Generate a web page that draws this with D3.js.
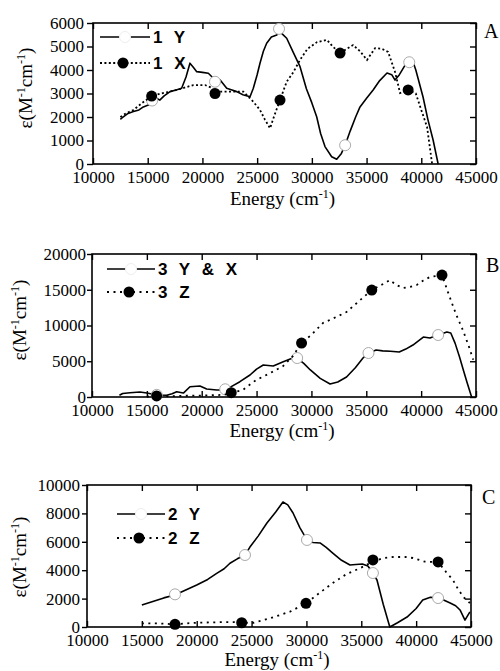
<!DOCTYPE html>
<html>
<head>
<meta charset="utf-8">
<script src="https://cdn.jsdelivr.net/npm/d3@7"></script>
<style>
  body { margin: 0; background: #fff; }
  svg { display: block; }
</style>
</head>
<body>
<svg id="chart" width="500" height="671"></svg>
<script>
// ---- shared axis values ----
const energyTicks = [10000, 15000, 20000, 25000, 30000, 35000, 40000, 45000];
const ticksA = [0, 1000, 2000, 3000, 4000, 5000, 6000];
const ticksB = [0, 5000, 10000, 15000, 20000];
const ticksC = [0, 2000, 4000, 6000, 8000, 10000];

// ---- panel A: complex 1 ----
const a1Y = [[12500,1900],[12650,1960],[13200,2150],[13700,2230],[14200,2300],[14600,2430],[15050,2510],[15500,2650],[15820,2800],[16100,2720],[16500,2900],[17040,3080],[17600,3150],[18100,3220],[18500,3700],[18860,4290],[19200,4100],[19480,3930],[20000,3900],[20540,3860],[21000,3650],[21200,3520],[21600,3580],[22220,3220],[22700,3150],[23130,3080],[23700,2950],[24350,2860],[24650,3220],[25000,3800],[25260,4290],[25570,4800],[25870,5140],[26300,5400],[26790,5490],[27000,5650],[27240,5560],[27700,5350],[28300,4750],[28920,4140],[29500,3200],[30000,2600],[30440,2010],[30800,1300],[31200,740],[31810,310],[32270,200],[32700,450],[33040,800],[33500,1400],[34000,2000],[34400,2430],[35000,2800],[35600,3150],[36200,3550],[36870,3870],[37300,3800],[37600,3570],[38000,3800],[38520,4210],[38900,4330],[39250,4340],[39500,4000],[40160,2850],[40600,1900],[41080,1020],[41540,0]];
const a1X = [[12500,2000],[13000,2150],[13700,2300],[14500,2600],[15360,2890],[16200,3000],[17040,3080],[18000,3200],[19170,3360],[20240,3360],[20800,3250],[21150,3080],[21800,3080],[22520,3080],[23740,3080],[24650,2650],[25260,2300],[25700,1900],[26180,1520],[26600,2100],[27090,2720],[27700,3500],[28300,3900],[28920,4430],[29600,4900],[30480,5190],[31390,5280],[31900,5000],[32580,4720],[33200,4900],[33770,5060],[34400,4800],[35040,4430],[35780,4930],[36400,4900],[36970,4770],[37600,3920],[38060,3020],[38800,3150],[39500,3000],[40000,2300],[40530,1570],[40990,0]];
const a1YMarks = [[15400,2700],[21150,3500],[27000,5750],[33040,800],[38900,4330]];
const a1XMarks = [[15360,2890],[21150,3000],[27090,2720],[32580,4720],[38800,3150]];

// ---- panel B: complex 3 ----
const b3YX = [[12500,250],[12800,500],[13460,600],[14370,700],[15000,550],[15890,280],[16800,250],[17300,450],[17720,740],[18330,550],[18930,1440],[19840,1540],[20450,1120],[21360,980],[21970,980],[22570,1350],[23480,2140],[24400,3080],[25000,3900],[25610,4480],[26520,4340],[27430,4940],[28300,5450],[28700,5450],[29300,4700],[29900,3780],[30800,2600],[31700,1820],[32400,2100],[33200,2800],[34000,4100],[34700,5450],[35200,6150],[35900,6570],[36500,6450],[37200,6400],[38000,6290],[38600,6700],[39250,7270],[40200,8390],[40800,8250],[41550,8670],[42350,9090],[42700,8950],[43100,7500],[43500,5600],[43900,3500],[44200,1960],[44600,0]];
const b3Z = [[15000,50],[15890,150],[17000,100],[18000,150],[19000,200],[20000,200],[21000,250],[22000,300],[22690,600],[23740,980],[24960,2380],[26180,3300],[27400,4300],[28300,5700],[29100,7550],[30000,8700],[31050,10350],[32000,11000],[33200,11890],[34400,13500],[35500,14960],[36400,15700],[37150,16360],[37700,15700],[38350,15240],[39000,15400],[39600,15660],[40200,16300],[40800,16780],[41900,17060],[42600,13990],[43200,11500],[43800,9370],[44300,7300],[44750,5200]];
const b3YXMarks = [[15900,300],[22140,1080],[28700,5450],[35200,6150],[41550,8670]];
const b3ZMarks = [[15890,150],[22690,600],[29100,7550],[35500,14960],[41900,17060]];

// ---- panel C: complex 2 ----
const c2Y = [[15000,1550],[16000,1800],[17000,2050],[18000,2250],[19000,2600],[20000,2960],[21000,3350],[21820,3780],[22500,4100],[23030,4490],[23700,4800],[24400,5070],[24850,5630],[25600,6400],[26400,7320],[27200,8100],[27860,8800],[28300,8600],[28780,8030],[29400,7000],[30050,6130],[30600,5950],[31240,5920],[31800,5600],[32400,5210],[33200,4700],[33970,4370],[34500,4400],[35100,4440],[35600,4300],[36060,3800],[36430,3310],[37000,1600],[37600,0],[38300,300],[39170,700],[40000,1300],[40600,1900],[41300,2100],[42000,2040],[42500,1900],[43100,1690],[43600,1500],[44000,1200],[44450,490],[44900,1060]];
const c2Z = [[15000,260],[16000,260],[17000,230],[18020,190],[19000,250],[20000,300],[21500,330],[23330,350],[24100,300],[25200,300],[26680,610],[28500,1080],[29960,1670],[31200,2400],[32400,3100],[33600,3700],[34900,4150],[36060,4600],[37000,4850],[37900,4930],[39000,4930],[39700,4860],[40800,4600],[42000,4580],[42700,3900],[43350,3310],[43800,2700],[44300,2110],[44900,1690]];
const c2YMarks = [[18020,2300],[24400,5070],[30050,6130],[36060,3800],[42000,2040]];
const c2ZMarks = [[18020,190],[24100,300],[29960,1670],[36060,4720],[42000,4580]];

// ---- legend labels ----
const legendA = ["1 Y", "1 X"];
const legendB = ["3 Y & X", "3 Z"];
const legendC = ["2 Y", "2 Z"];

const SERIF = "'Liberation Serif', 'Times New Roman', serif";
const SANS = "'Liberation Sans', Arial, sans-serif";

const svg = d3.select("#chart");

const panels = [
  { left: 93, right: 476, top: 23, bottom: 164, yMax: 6000, yTicks: ticksA,
    tickOut: 6, pad: 3, xLabY: 205, yLab: [25, 88], letter: "A", letterPos: [484, 38],
    dots: "2,2.4", solid: a1Y, dotted: a1X, openMarks: a1YMarks, fillMarks: a1XMarks,
    legend: legendA, legPos: [100, 150, 37, 63] },
  { left: 92, right: 476, top: 254, bottom: 397, yMax: 20000, yTicks: ticksB,
    tickOut: 5, pad: 1, xLabY: 437, yLab: [19, 320], letter: "B", letterPos: [486, 272],
    dots: "2,4.5", solid: b3YX, dotted: b3Z, openMarks: b3YXMarks, fillMarks: b3ZMarks,
    legend: legendB, legPos: [107, 155, 269, 292] },
  { left: 87, right: 471, top: 485, bottom: 627, yMax: 10000, yTicks: ticksC,
    tickOut: 5, pad: 2, xLabY: 666, yLab: [19, 557], letter: "C", letterPos: [482, 504],
    dots: "2,4.5", solid: c2Y, dotted: c2Z, openMarks: c2YMarks, fillMarks: c2ZMarks,
    legend: legendC, legPos: [117, 165, 514, 538] }
];

function styleAxis(sel) {
  sel.select(".domain").remove();
  sel.attr("font-family", SERIF).attr("font-size", 17);
  sel.selectAll("line").attr("stroke", "#000").attr("stroke-width", 1.4);
  sel.selectAll("text").attr("font-family", SERIF).attr("font-size", 17).attr("fill", "#000");
}

function drawPanel(p) {
  const x = d3.scaleLinear().domain([10000, 45000]).range([p.left, p.right]);
  const y = d3.scaleLinear().domain([0, p.yMax]).range([p.bottom, p.top]);
  const g = svg.append("g");

  // axes: labelled bottom/left, inward ticks on all sides except left
  g.append("g").attr("transform", `translate(0,${p.bottom})`)
    .call(d3.axisBottom(x).tickValues(energyTicks).tickSizeInner(-6).tickSizeOuter(0)
      .tickPadding(7).tickFormat(d3.format("d")))
    .call(styleAxis);
  g.append("g").attr("transform", `translate(0,${p.top})`)
    .call(d3.axisTop(x).tickValues(energyTicks).tickSizeInner(-6).tickSizeOuter(0).tickFormat(""))
    .call(styleAxis);
  g.append("g").attr("transform", `translate(${p.left},0)`)
    .call(d3.axisLeft(y).tickValues(p.yTicks).tickSizeInner(p.tickOut).tickSizeOuter(0)
      .tickPadding(p.pad).tickFormat(d3.format("d")))
    .call(styleAxis);
  g.append("g").attr("transform", `translate(${p.right},0)`)
    .call(d3.axisRight(y).tickValues(p.yTicks).tickSizeInner(-6).tickSizeOuter(0).tickFormat(""))
    .call(styleAxis);

  g.append("rect")
    .attr("x", p.left).attr("y", p.top)
    .attr("width", p.right - p.left).attr("height", p.bottom - p.top)
    .attr("fill", "none").attr("stroke", "#000").attr("stroke-width", 1.6);

  // axis titles
  g.append("text")
    .attr("x", (p.left + p.right) / 2 - 2).attr("y", p.xLabY)
    .attr("text-anchor", "middle").attr("font-family", SERIF).attr("font-size", 19)
    .call(t => {
      t.append("tspan").text("Energy (cm");
      t.append("tspan").attr("dy", -7).attr("font-size", 12).text("-1");
      t.append("tspan").attr("dy", 7).text(")");
    });

  g.append("text")
    .attr("transform", `translate(${p.yLab[0]},${p.yLab[1]}) rotate(-90)`)
    .attr("text-anchor", "middle").attr("dy", "0.35em")
    .attr("font-family", SERIF).attr("font-size", 19)
    .call(t => {
      t.append("tspan").text("ε(M");
      t.append("tspan").attr("dy", -7).attr("font-size", 12).text("-1");
      t.append("tspan").attr("dy", 7).text("cm");
      t.append("tspan").attr("dy", -7).attr("font-size", 12).text("-1");
      t.append("tspan").attr("dy", 7).text(")");
    });

  g.append("text")
    .attr("x", p.letterPos[0]).attr("y", p.letterPos[1])
    .attr("font-family", SERIF).attr("font-size", 20).text(p.letter);

  const line = d3.line().x(d => x(d[0])).y(d => y(d[1]));

  // solid series with open markers
  g.append("path").datum(p.solid).attr("d", line)
    .attr("fill", "none").attr("stroke", "#000").attr("stroke-width", 1.6)
    .attr("stroke-linejoin", "round");
  g.selectAll(".open").data(p.openMarks).join("circle")
    .attr("cx", d => x(d[0])).attr("cy", d => y(d[1])).attr("r", 5.5)
    .attr("fill", "#fff").attr("stroke", "#aaa").attr("stroke-width", 1);

  // dotted series with filled markers
  g.append("path").datum(p.dotted).attr("d", line)
    .attr("fill", "none").attr("stroke", "#000").attr("stroke-width", 1.8)
    .attr("stroke-dasharray", p.dots);
  g.selectAll(".filled").data(p.fillMarks).join("circle")
    .attr("cx", d => x(d[0])).attr("cy", d => y(d[1])).attr("r", 5.5)
    .attr("fill", "#000");

  // legend
  const [lx0, lx1, ly0, ly1] = p.legPos;
  const mid = (lx0 + lx1) / 2;
  g.append("line").attr("x1", lx0).attr("x2", lx1).attr("y1", ly0).attr("y2", ly0)
    .attr("stroke", "#000").attr("stroke-width", 1.6);
  g.append("circle").attr("cx", mid).attr("cy", ly0).attr("r", 5.5)
    .attr("fill", "#fff").attr("stroke", "#eee").attr("stroke-width", 1);
  g.append("line").attr("x1", lx0).attr("x2", lx1).attr("y1", ly1).attr("y2", ly1)
    .attr("stroke", "#000").attr("stroke-width", 1.8).attr("stroke-dasharray", p.dots);
  g.append("circle").attr("cx", mid - 2).attr("cy", ly1).attr("r", 5.5).attr("fill", "#000");

  [ly0, ly1].forEach((ly, i) => {
    g.append("text")
      .attr("x", lx1 + 3).attr("y", ly + 6)
      .attr("font-family", SANS).attr("font-weight", "bold").attr("font-size", 17)
      .attr("letter-spacing", 1.5).attr("word-spacing", 4)
      .text(p.legend[i]);
  });
}

panels.forEach(drawPanel);
</script>
</body>
</html>
